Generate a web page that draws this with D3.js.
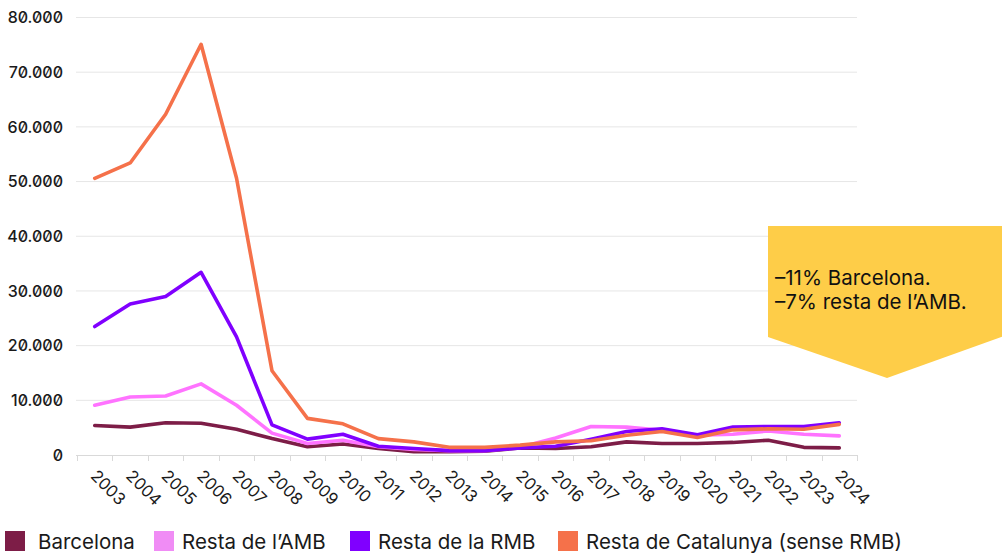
<!DOCTYPE html>
<html><head><meta charset="utf-8">
<script src="https://cdn.jsdelivr.net/npm/d3@7"></script>
<style>
html,body{margin:0;padding:0;background:#fff;}
svg{display:block;font-family:Inter, "Noto Sans", sans-serif;}
.ylab{font-feature-settings:"zero" 1;}
</style></head>
<body><svg id="c" width="1002" height="554"></svg>
<script>
const years = ["2003","2004","2005","2006","2007","2008","2009","2010","2011","2012","2013","2014","2015","2016","2017","2018","2019","2020","2021","2022","2023","2024"];
const barcelona = [5400,5100,5900,5800,4700,3000,1500,2000,1200,600,600,700,1300,1200,1500,2400,2100,2100,2300,2700,1400,1300];
const restaAMB = [9100,10600,10800,13000,9100,4000,2100,2700,1500,1000,800,800,1400,3100,5200,5100,4500,3600,3800,4400,3800,3500];
const restaRMB = [23500,27600,29000,33400,21600,5500,2900,3800,1600,1200,800,800,1300,1600,2900,4300,4800,3700,5100,5200,5200,5900];
const restaCat = [50600,53400,62300,75100,50600,15400,6700,5700,3000,2400,1400,1400,1800,2400,2600,3600,4300,3200,4600,4800,4700,5600];
const yTicks = [0,10000,20000,30000,40000,50000,60000,70000,80000];
const seriesNames = ["Barcelona","Resta de l\u2019AMB","Resta de la RMB","Resta de Catalunya (sense RMB)"];
const lineColors = ["#7d1d47","#ff73ff","#8000ff","#f5714a"];
const legendColors = ["#7d1d47","#f08cf5","#8000ff","#f5714a"];
const calloutLines = ["\u201311% Barcelona.","\u20137% resta de l\u2019AMB."];

const svg = d3.select("#c");
const x = d3.scaleBand().domain(years).range([77,857]).padding(0);
const y = d3.scaleLinear().domain([0,80000]).range([455,17.5]);

// gridlines
svg.append("g").selectAll("line").data(yTicks.slice(1)).join("line")
  .attr("x1",76).attr("x2",857).attr("y1",d=>y(d)).attr("y2",d=>y(d))
  .attr("stroke","#e6e6e6").attr("stroke-width",1);

// y labels
const fmt = d => d===0 ? "0" : d3.format(",")(d).replace(/,/g,".");
svg.append("g").selectAll("text").data(yTicks).join("text")
  .attr("class","ylab")
  .attr("x",63).attr("y",d=>y(d)).attr("dy","0.36em")
  .attr("text-anchor","end").attr("font-size",16).attr("font-weight",500)
  .attr("fill","#1a1a1a").text(fmt);

// x axis line and ticks at band boundaries
const bounds = years.map(v=>x(v)).concat([x.range()[1]]);
svg.append("line").attr("x1",76).attr("x2",857).attr("y1",455.5).attr("y2",455.5)
  .attr("stroke","#d9d9d9").attr("stroke-width",1);
svg.append("g").selectAll("line").data(bounds).join("line")
  .attr("x1",d=>Math.round(d)+0.5).attr("x2",d=>Math.round(d)+0.5)
  .attr("y1",455).attr("y2",461).attr("stroke","#d9d9d9");

// x labels
svg.append("g").selectAll("text").data(years).join("text")
  .attr("transform",d=>`translate(${x(d)+x.bandwidth()/2-1},${473}) rotate(45)`)
  .attr("font-size",16.5).attr("fill","#1a1a1a").attr("dy","0.35em")
  .text(d=>d);

// lines
const allSeries = [barcelona,restaAMB,restaRMB,restaCat];
const line = d3.line().x((d,i)=>x(years[i])+x.bandwidth()/2).y(d=>y(d));
svg.append("g").selectAll("path").data([0,1,2,3]).join("path")
  .attr("d",k=>line(allSeries[k]))
  .attr("fill","none").attr("stroke",k=>lineColors[k])
  .attr("stroke-width",3.6).attr("stroke-linejoin","round").attr("stroke-linecap","round");

// legend
const legX = [5,154,350,558];
const legTextOff = [33,28,28,28];
const lg = svg.append("g").selectAll("g").data(seriesNames).join("g")
  .attr("transform",(d,i)=>`translate(${legX[i]},531)`);
lg.append("rect").attr("width",20).attr("height",20).attr("fill",(d,i)=>legendColors[i]);
lg.append("text").attr("x",(d,i)=>legTextOff[i]).attr("y",17.5).attr("font-size",20.5).attr("fill","#1a1a1a").text(d=>d);

// callout
svg.append("path").attr("d","M768,226 L1010,226 L1010,334 L887,378 L768,337 Z").attr("fill","#fecd48");
svg.append("g").selectAll("text").data(calloutLines).join("text")
  .attr("x",775).attr("y",(d,i)=>284.5+i*24).attr("font-size",20.5).attr("fill","#111")
  .text(d=>d);
</script></body></html>
